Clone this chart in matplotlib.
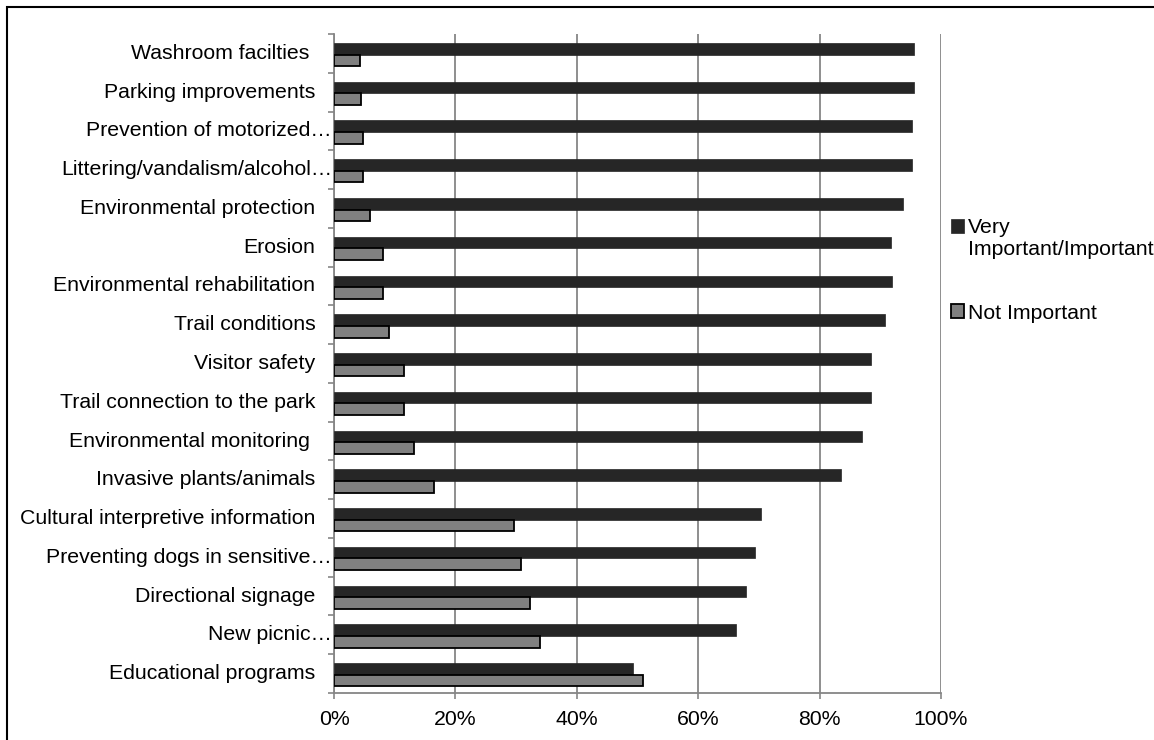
import numpy as np
import matplotlib
matplotlib.use('Agg')
import matplotlib.pyplot as plt
from matplotlib.patches import Rectangle
from matplotlib.legend_handler import HandlerPatch, update_from_first_child

# --- data ----------------------------------------------------------------------------------------------------------- #
categories = ['Washroom facilties ', 'Parking improvements', 'Prevention of motorized\u2026',
              'Littering/vandalism/alcohol\u2026', 'Environmental protection', 'Erosion',
              'Environmental rehabilitation', 'Trail conditions', 'Visitor safety',
              'Trail connection to the park', 'Environmental monitoring ', 'Invasive plants/animals',
              'Cultural interpretive information', 'Preventing dogs in sensitive\u2026', 'Directional signage',
              'New picnic\u2026', 'Educational programs']
important = [95.6, 95.5, 95.3, 95.2, 93.7, 91.8, 92.0, 90.8, 88.5, 88.4, 87.0, 83.6,
             70.3, 69.3, 67.8, 66.2, 49.2]
not_important = [4.3, 4.4, 4.7, 4.7, 6.0, 8.1, 8.1, 9.1, 11.5, 11.6, 13.1, 16.5,
                 29.7, 30.8, 32.3, 34.0, 50.9]
series_names = ['Very\nImportant/Important', 'Not Important']
x_ticks = [0, 20, 40, 60, 80, 100]

plt.rcParams['font.family'] = ['Liberation Sans', 'DejaVu Sans']
plt.rcParams['font.size'] = 15.3

W, H = 1154, 740
fig = plt.figure(figsize=(W / 100, H / 100), dpi=100)
ax = fig.add_axes([334 / W, 1 - 693 / H, (941 - 334) / W, (693 - 34) / H])

grid_col = '#868686'
dark = '#262626'
light = '#808080'

y = np.arange(len(categories))
bh = 0.30
b1 = ax.barh(y - bh / 2 + 0.03, important, height=bh, color=dark, edgecolor=dark, linewidth=0.5,
             label=series_names[0], zorder=3)
b2 = ax.barh(y + bh / 2 + 0.03, not_important, height=bh, color=light, edgecolor='black', linewidth=1.3,
             label=series_names[1], zorder=3)

ax.set_xlim(0, 100)
ax.set_ylim(len(categories) - 0.5, -0.5)

ax.set_xticks(x_ticks)
ax.set_xticklabels(['%d%%' % v for v in x_ticks])
ax.set_yticks(np.arange(-0.5, len(categories), 1))
ax.set_yticklabels([])
ax.tick_params(axis='x', direction='out', length=4, width=1.2, color=grid_col, pad=8.5)
ax.tick_params(axis='y', direction='out', length=4, width=1.2, color=grid_col)

ax.xaxis.grid(True, color=grid_col, linewidth=1.3, zorder=0)
ax.set_axisbelow(True)
for side in ['top', 'right']:
    ax.spines[side].set_visible(False)
for side in ['left', 'bottom']:
    ax.spines[side].set_color(grid_col)
    ax.spines[side].set_linewidth(1.3)

# category labels, Excel style (truncated ones sit closer to the axis)
for i, lab in enumerate(categories):
    pad = 13.5
    if lab.endswith('\u2026'):
        pad = 1.5
    elif lab.endswith(' '):
        pad = 17.5
    ax.annotate(lab.strip(), xy=(0, i), xycoords=ax.get_yaxis_transform(), xytext=(-pad, 0),
                textcoords='offset points', ha='right', va='center')


# legend marker of the two-line entry sits on its first line
def first_line_square(legend, orig_handle, xdescent, ydescent, width, height, fontsize):
    return Rectangle((-xdescent, -ydescent + 0.6 * fontsize), width, height)


fig.legend(loc='upper left', bbox_to_anchor=(951 / W, 1 - 218 / H), frameon=False,
           borderpad=0, borderaxespad=0, handlelength=0.6, handleheight=0.6,
           handletextpad=0.2, labelspacing=2.1,
           handler_map={b1: HandlerPatch(patch_func=first_line_square, update_func=update_from_first_child)})

# frame around the figure (only left and top edges are visible)
fig.add_artist(Rectangle((7 / W, -0.1), 1.2, 1.1 - 7 / H, transform=fig.transFigure,
                         fill=False, edgecolor='black', linewidth=1.5))

fig.savefig('out.png', dpi=100)
